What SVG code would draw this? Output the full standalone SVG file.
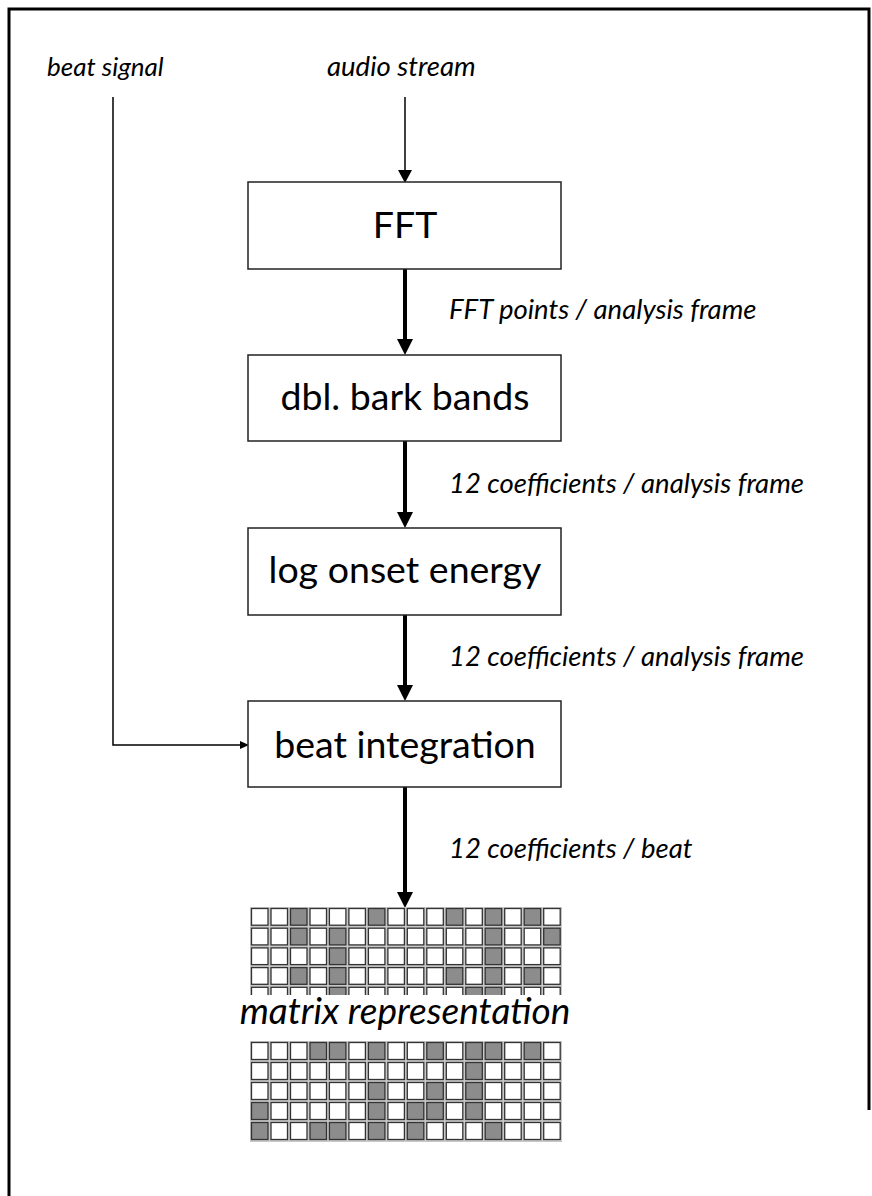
<svg xmlns="http://www.w3.org/2000/svg" width="872" height="1196" viewBox="0 0 872 1196">
<style>
.box{fill:#fff;stroke:#222;stroke-width:1.5}
.lbl{font-family:Lato,"Open Sans",sans-serif;font-size:37.5px;fill:#000;text-anchor:middle}
.it{font-family:Lato,"Open Sans",sans-serif;font-style:italic;font-size:27.5px;fill:#000}
.thick{stroke:#000;stroke-width:4;fill:none}
.thin{stroke:#000;stroke-width:1.5;fill:none}
.c{fill:#fff;stroke:#333;stroke-width:1.3}
.g{fill:#8c8c8c;stroke:#333;stroke-width:1.3}
</style>
<defs>
<clipPath id="topclip"><rect x="240" y="900" width="330" height="95"/></clipPath>
</defs>
<rect width="872" height="1196" fill="#fff"/>
<path d="M9,1196 V9 H869 V1110" fill="none" stroke="#000" stroke-width="3"/>
<g id="connectors">
<path class="thin" d="M405,97 V172"/>
<path d="M398,170 L412,170 L405,183 Z" fill="#000"/>
<path class="thick" d="M405,269 V342"/>
<path d="M397,339 L413,339 L405,355 Z" fill="#000"/>
<path class="thick" d="M405,441 V515"/>
<path d="M397,512 L413,512 L405,528 Z" fill="#000"/>
<path class="thick" d="M405,615 V688"/>
<path d="M397,685 L413,685 L405,701 Z" fill="#000"/>
<path class="thick" d="M405,787 V895"/>
<path d="M397,892 L413,892 L405,908 Z" fill="#000"/>
<path class="thin" d="M113,97 V745 H241" stroke-width="1.2"/>
<path d="M240,741 L249,745 L240,749 Z" fill="#000"/>
</g>
<g id="beat-signal"><text class="it" x="47" y="76" style="font-size:26px">beat signal</text></g>
<g id="audio-stream"><text class="it" x="327" y="76">audio stream</text></g>
<g id="fft"><rect class="box" x="248" y="182" width="313" height="87"/><text class="lbl" x="405" y="238">FFT</text></g>
<g id="bark"><rect class="box" x="248" y="355" width="313" height="86"/><text class="lbl" x="405" y="410">dbl. bark bands</text></g>
<g id="onset"><rect class="box" x="248" y="528" width="313" height="87"/><text class="lbl" x="405" y="583">log onset energy</text></g>
<g id="beatint"><rect class="box" x="248" y="701" width="313" height="86"/><text class="lbl" x="405" y="758">beat integration</text></g>
<g id="edge-labels">
<text class="it" x="449" y="319">FFT points / analysis frame</text>
<text class="it" x="449" y="493">12 coefficients / analysis frame</text>
<text class="it" x="449" y="666">12 coefficients / analysis frame</text>
<text class="it" x="449" y="858">12 coefficients / beat</text>
</g>
<g id="matrix-top" clip-path="url(#topclip)">
<rect x="250" y="907" width="312" height="99" fill="#c8c8c8"/>
<g transform="translate(250,907)">
<rect class="c" x="1.5" y="1.5" width="16.5" height="16.7"/><rect class="c" x="21" y="1.5" width="16.5" height="16.7"/><rect class="g" x="40.5" y="1.5" width="16.5" height="16.7"/><rect class="c" x="60" y="1.5" width="16.5" height="16.7"/><rect class="c" x="79.4" y="1.5" width="16.5" height="16.7"/><rect class="c" x="98.9" y="1.5" width="16.5" height="16.7"/><rect class="g" x="118.4" y="1.5" width="16.5" height="16.7"/><rect class="c" x="137.9" y="1.5" width="16.5" height="16.7"/><rect class="c" x="157.3" y="1.5" width="16.5" height="16.7"/><rect class="c" x="176.8" y="1.5" width="16.5" height="16.7"/><rect class="g" x="196.3" y="1.5" width="16.5" height="16.7"/><rect class="c" x="215.8" y="1.5" width="16.5" height="16.7"/><rect class="g" x="235.2" y="1.5" width="16.5" height="16.7"/><rect class="c" x="254.7" y="1.5" width="16.5" height="16.7"/><rect class="g" x="274.2" y="1.5" width="16.5" height="16.7"/><rect class="c" x="293.7" y="1.5" width="16.5" height="16.7"/>
</g>
<g transform="translate(250,926.7)">
<rect class="c" x="1.5" y="1.5" width="16.5" height="16.7"/><rect class="c" x="21" y="1.5" width="16.5" height="16.7"/><rect class="g" x="40.5" y="1.5" width="16.5" height="16.7"/><rect class="c" x="60" y="1.5" width="16.5" height="16.7"/><rect class="g" x="79.4" y="1.5" width="16.5" height="16.7"/><rect class="c" x="98.9" y="1.5" width="16.5" height="16.7"/><rect class="c" x="118.4" y="1.5" width="16.5" height="16.7"/><rect class="c" x="137.9" y="1.5" width="16.5" height="16.7"/><rect class="c" x="157.3" y="1.5" width="16.5" height="16.7"/><rect class="c" x="176.8" y="1.5" width="16.5" height="16.7"/><rect class="c" x="196.3" y="1.5" width="16.5" height="16.7"/><rect class="c" x="215.8" y="1.5" width="16.5" height="16.7"/><rect class="g" x="235.2" y="1.5" width="16.5" height="16.7"/><rect class="c" x="254.7" y="1.5" width="16.5" height="16.7"/><rect class="c" x="274.2" y="1.5" width="16.5" height="16.7"/><rect class="g" x="293.7" y="1.5" width="16.5" height="16.7"/>
</g>
<g transform="translate(250,946.4)">
<rect class="c" x="1.5" y="1.5" width="16.5" height="16.7"/><rect class="c" x="21" y="1.5" width="16.5" height="16.7"/><rect class="c" x="40.5" y="1.5" width="16.5" height="16.7"/><rect class="c" x="60" y="1.5" width="16.5" height="16.7"/><rect class="g" x="79.4" y="1.5" width="16.5" height="16.7"/><rect class="c" x="98.9" y="1.5" width="16.5" height="16.7"/><rect class="c" x="118.4" y="1.5" width="16.5" height="16.7"/><rect class="c" x="137.9" y="1.5" width="16.5" height="16.7"/><rect class="c" x="157.3" y="1.5" width="16.5" height="16.7"/><rect class="c" x="176.8" y="1.5" width="16.5" height="16.7"/><rect class="c" x="196.3" y="1.5" width="16.5" height="16.7"/><rect class="c" x="215.8" y="1.5" width="16.5" height="16.7"/><rect class="g" x="235.2" y="1.5" width="16.5" height="16.7"/><rect class="c" x="254.7" y="1.5" width="16.5" height="16.7"/><rect class="c" x="274.2" y="1.5" width="16.5" height="16.7"/><rect class="c" x="293.7" y="1.5" width="16.5" height="16.7"/>
</g>
<g transform="translate(250,966.1)">
<rect class="c" x="1.5" y="1.5" width="16.5" height="16.7"/><rect class="c" x="21" y="1.5" width="16.5" height="16.7"/><rect class="g" x="40.5" y="1.5" width="16.5" height="16.7"/><rect class="c" x="60" y="1.5" width="16.5" height="16.7"/><rect class="g" x="79.4" y="1.5" width="16.5" height="16.7"/><rect class="c" x="98.9" y="1.5" width="16.5" height="16.7"/><rect class="c" x="118.4" y="1.5" width="16.5" height="16.7"/><rect class="c" x="137.9" y="1.5" width="16.5" height="16.7"/><rect class="c" x="157.3" y="1.5" width="16.5" height="16.7"/><rect class="c" x="176.8" y="1.5" width="16.5" height="16.7"/><rect class="g" x="196.3" y="1.5" width="16.5" height="16.7"/><rect class="c" x="215.8" y="1.5" width="16.5" height="16.7"/><rect class="g" x="235.2" y="1.5" width="16.5" height="16.7"/><rect class="c" x="254.7" y="1.5" width="16.5" height="16.7"/><rect class="g" x="274.2" y="1.5" width="16.5" height="16.7"/><rect class="c" x="293.7" y="1.5" width="16.5" height="16.7"/>
</g>
<g transform="translate(250,985.8)">
<rect class="c" x="1.5" y="1.5" width="16.5" height="16.7"/><rect class="c" x="21" y="1.5" width="16.5" height="16.7"/><rect class="c" x="40.5" y="1.5" width="16.5" height="16.7"/><rect class="c" x="60" y="1.5" width="16.5" height="16.7"/><rect class="g" x="79.4" y="1.5" width="16.5" height="16.7"/><rect class="c" x="98.9" y="1.5" width="16.5" height="16.7"/><rect class="c" x="118.4" y="1.5" width="16.5" height="16.7"/><rect class="c" x="137.9" y="1.5" width="16.5" height="16.7"/><rect class="c" x="157.3" y="1.5" width="16.5" height="16.7"/><rect class="c" x="176.8" y="1.5" width="16.5" height="16.7"/><rect class="c" x="196.3" y="1.5" width="16.5" height="16.7"/><rect class="g" x="215.8" y="1.5" width="16.5" height="16.7"/><rect class="g" x="235.2" y="1.5" width="16.5" height="16.7"/><rect class="c" x="254.7" y="1.5" width="16.5" height="16.7"/><rect class="c" x="274.2" y="1.5" width="16.5" height="16.7"/><rect class="c" x="293.7" y="1.5" width="16.5" height="16.7"/>
</g>
</g>
<g id="matrix-label"><text class="it" x="405" y="1024" text-anchor="middle" style="font-size:37px">matrix representation</text></g>
<g id="matrix-bottom">
<rect x="250" y="1041" width="312" height="101" fill="#c8c8c8"/>
<g transform="translate(250,1041)">
<rect class="c" x="1.5" y="1.5" width="16.5" height="17"/><rect class="c" x="21" y="1.5" width="16.5" height="17"/><rect class="c" x="40.5" y="1.5" width="16.5" height="17"/><rect class="g" x="60" y="1.5" width="16.5" height="17"/><rect class="g" x="79.4" y="1.5" width="16.5" height="17"/><rect class="c" x="98.9" y="1.5" width="16.5" height="17"/><rect class="g" x="118.4" y="1.5" width="16.5" height="17"/><rect class="c" x="137.9" y="1.5" width="16.5" height="17"/><rect class="c" x="157.3" y="1.5" width="16.5" height="17"/><rect class="g" x="176.8" y="1.5" width="16.5" height="17"/><rect class="c" x="196.3" y="1.5" width="16.5" height="17"/><rect class="g" x="215.8" y="1.5" width="16.5" height="17"/><rect class="g" x="235.2" y="1.5" width="16.5" height="17"/><rect class="c" x="254.7" y="1.5" width="16.5" height="17"/><rect class="g" x="274.2" y="1.5" width="16.5" height="17"/><rect class="c" x="293.7" y="1.5" width="16.5" height="17"/>
</g>
<g transform="translate(250,1061)">
<rect class="c" x="1.5" y="1.5" width="16.5" height="17"/><rect class="c" x="21" y="1.5" width="16.5" height="17"/><rect class="c" x="40.5" y="1.5" width="16.5" height="17"/><rect class="c" x="60" y="1.5" width="16.5" height="17"/><rect class="c" x="79.4" y="1.5" width="16.5" height="17"/><rect class="c" x="98.9" y="1.5" width="16.5" height="17"/><rect class="c" x="118.4" y="1.5" width="16.5" height="17"/><rect class="c" x="137.9" y="1.5" width="16.5" height="17"/><rect class="c" x="157.3" y="1.5" width="16.5" height="17"/><rect class="c" x="176.8" y="1.5" width="16.5" height="17"/><rect class="c" x="196.3" y="1.5" width="16.5" height="17"/><rect class="g" x="215.8" y="1.5" width="16.5" height="17"/><rect class="c" x="235.2" y="1.5" width="16.5" height="17"/><rect class="c" x="254.7" y="1.5" width="16.5" height="17"/><rect class="c" x="274.2" y="1.5" width="16.5" height="17"/><rect class="c" x="293.7" y="1.5" width="16.5" height="17"/>
</g>
<g transform="translate(250,1081)">
<rect class="c" x="1.5" y="1.5" width="16.5" height="17"/><rect class="c" x="21" y="1.5" width="16.5" height="17"/><rect class="c" x="40.5" y="1.5" width="16.5" height="17"/><rect class="c" x="60" y="1.5" width="16.5" height="17"/><rect class="c" x="79.4" y="1.5" width="16.5" height="17"/><rect class="c" x="98.9" y="1.5" width="16.5" height="17"/><rect class="g" x="118.4" y="1.5" width="16.5" height="17"/><rect class="c" x="137.9" y="1.5" width="16.5" height="17"/><rect class="c" x="157.3" y="1.5" width="16.5" height="17"/><rect class="g" x="176.8" y="1.5" width="16.5" height="17"/><rect class="c" x="196.3" y="1.5" width="16.5" height="17"/><rect class="g" x="215.8" y="1.5" width="16.5" height="17"/><rect class="c" x="235.2" y="1.5" width="16.5" height="17"/><rect class="c" x="254.7" y="1.5" width="16.5" height="17"/><rect class="c" x="274.2" y="1.5" width="16.5" height="17"/><rect class="c" x="293.7" y="1.5" width="16.5" height="17"/>
</g>
<g transform="translate(250,1101)">
<rect class="g" x="1.5" y="1.5" width="16.5" height="17"/><rect class="c" x="21" y="1.5" width="16.5" height="17"/><rect class="c" x="40.5" y="1.5" width="16.5" height="17"/><rect class="c" x="60" y="1.5" width="16.5" height="17"/><rect class="c" x="79.4" y="1.5" width="16.5" height="17"/><rect class="c" x="98.9" y="1.5" width="16.5" height="17"/><rect class="g" x="118.4" y="1.5" width="16.5" height="17"/><rect class="c" x="137.9" y="1.5" width="16.5" height="17"/><rect class="g" x="157.3" y="1.5" width="16.5" height="17"/><rect class="g" x="176.8" y="1.5" width="16.5" height="17"/><rect class="c" x="196.3" y="1.5" width="16.5" height="17"/><rect class="g" x="215.8" y="1.5" width="16.5" height="17"/><rect class="c" x="235.2" y="1.5" width="16.5" height="17"/><rect class="c" x="254.7" y="1.5" width="16.5" height="17"/><rect class="c" x="274.2" y="1.5" width="16.5" height="17"/><rect class="c" x="293.7" y="1.5" width="16.5" height="17"/>
</g>
<g transform="translate(250,1121)">
<rect class="g" x="1.5" y="1.5" width="16.5" height="17"/><rect class="c" x="21" y="1.5" width="16.5" height="17"/><rect class="c" x="40.5" y="1.5" width="16.5" height="17"/><rect class="g" x="60" y="1.5" width="16.5" height="17"/><rect class="g" x="79.4" y="1.5" width="16.5" height="17"/><rect class="c" x="98.9" y="1.5" width="16.5" height="17"/><rect class="g" x="118.4" y="1.5" width="16.5" height="17"/><rect class="c" x="137.9" y="1.5" width="16.5" height="17"/><rect class="g" x="157.3" y="1.5" width="16.5" height="17"/><rect class="c" x="176.8" y="1.5" width="16.5" height="17"/><rect class="c" x="196.3" y="1.5" width="16.5" height="17"/><rect class="c" x="215.8" y="1.5" width="16.5" height="17"/><rect class="g" x="235.2" y="1.5" width="16.5" height="17"/><rect class="c" x="254.7" y="1.5" width="16.5" height="17"/><rect class="c" x="274.2" y="1.5" width="16.5" height="17"/><rect class="c" x="293.7" y="1.5" width="16.5" height="17"/>
</g>
</g>
</svg>
